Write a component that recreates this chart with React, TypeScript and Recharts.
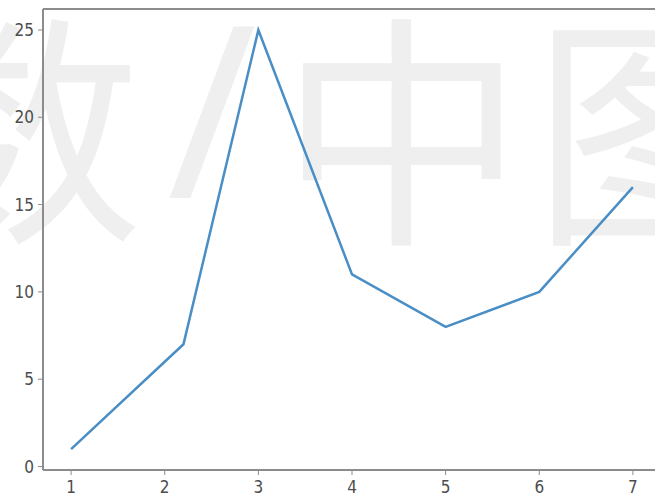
// App.tsx
//
// Simple matplotlib-style line plot: one blue series on a numeric x axis,
// full box spines (the right one falls just outside the window), and the
// faint grey watermark characters sitting behind the plot.

import { LineChart, Line, XAxis, YAxis, ReferenceLine } from "recharts";

const xValues = [1, 2.2, 3, 4, 5, 6, 7];
const yValues = [1, 7, 25, 11, 8, 10, 16];
const xTicks = [1, 2, 3, 4, 5, 6, 7];
const yTicks = [0, 5, 10, 15, 20, 25];

const X_DOMAIN = [0.7, 7.3];
const Y_DOMAIN = [-0.2, 26.2];

const data = xValues.map((x, i) => ({ x, y: yValues[i] }));

const SPINE = "#8c8c8c";
const LABEL = "#4d4d4d";
const FONT = "'DejaVu Sans Condensed', 'DejaVu Sans', sans-serif";

// watermark behind the chart — very light grey glyphs
function Watermark() {
  const style = {
    fontFamily: "'Noto Sans CJK SC', sans-serif",
    fontSize: 245,
    fill: "#efefef",
  };
  return (
    <svg
      width={655}
      height={501}
      style={{ position: "absolute", left: 0, top: 0 }}
    >
      <text x={20} y={224} textAnchor="middle" style={style}>
        数
      </text>
      <text
        x={212}
        y={198}
        textAnchor="middle"
        style={{ ...style, fontFamily: "'Noto Sans', sans-serif", fontSize: 240 }}
      >
        /
      </text>
      <text x={402} y={226} textAnchor="middle" style={style}>
        中
      </text>
      <text x={655} y={226} textAnchor="middle" style={style}>
        图
      </text>
    </svg>
  );
}

export default function App() {
  return (
    <div
      style={{
        position: "absolute",
        left: 0,
        top: 0,
        width: 655,
        height: 501,
        overflow: "hidden",
        background: "#fff",
      }}
    >
      <Watermark />
      <div style={{ position: "absolute", left: 0, top: 0 }}>
        <LineChart
          width={680}
          height={501}
          data={data}
          margin={{ top: 9, right: 19, left: 0, bottom: 0 }}
        >
          <XAxis
            dataKey="x"
            type="number"
            domain={X_DOMAIN}
            ticks={xTicks}
            height={31}
            tickSize={5}
            tickMargin={6}
            tickLine={{ stroke: SPINE }}
            axisLine={{ stroke: SPINE, strokeWidth: 2 }}
            tick={{ fontSize: 17, fill: LABEL, fontFamily: FONT }}
          />
          <YAxis
            type="number"
            domain={Y_DOMAIN}
            ticks={yTicks}
            width={43}
            tickSize={5}
            tickMargin={4}
            tickLine={{ stroke: SPINE }}
            axisLine={{ stroke: SPINE, strokeWidth: 2 }}
            tick={{ fontSize: 17, fill: LABEL, fontFamily: FONT }}
          />
          {/* top and right spines */}
          <ReferenceLine y={Y_DOMAIN[1]} stroke={SPINE} strokeWidth={2} />
          <ReferenceLine x={X_DOMAIN[1]} stroke={SPINE} strokeWidth={2} />
          <Line
            type="linear"
            dataKey="y"
            stroke="#4a8ec6"
            strokeWidth={2.5}
            dot={false}
            isAnimationActive={false}
          />
        </LineChart>
      </div>
    </div>
  );
}
